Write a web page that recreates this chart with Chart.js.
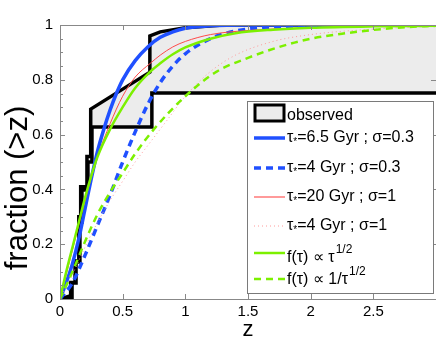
<!DOCTYPE html>
<html>
<head>
<meta charset="utf-8">
<script src="https://cdn.jsdelivr.net/npm/chart.js@4/dist/chart.umd.min.js"></script>
<style>
  html, body { margin: 0; padding: 0; background: #fff; }
</style>
</head>
<body>
<canvas id="cdfChart" width="436" height="339"></canvas>
<script>
// observed region: upper and lower step boundaries (z, fraction)
const obsUpperZ = [0, 0.085, 0.085, 0.12, 0.12, 0.15, 0.15, 0.165, 0.165, 0.215, 0.215, 0.245, 0.245, 0.717, 0.717, 0.8, 1.0, 1.3, 3.1];
const obsUpperF = [0, 0.012, 0.06, 0.06, 0.14, 0.14, 0.30, 0.30, 0.41, 0.41, 0.52, 0.52, 0.693, 0.828, 0.96, 0.975, 0.99, 1.0, 1.0];
const obsLowerZ = [0, 0.096, 0.096, 0.128, 0.128, 0.159, 0.159, 0.175, 0.175, 0.223, 0.223, 0.255, 0.255, 0.733, 0.733, 3.1];
const obsLowerF = [0, 0, 0.058, 0.058, 0.135, 0.135, 0.281, 0.281, 0.398, 0.398, 0.50, 0.50, 0.628, 0.628, 0.752, 0.752];

// model curves
const blueSolidZ = [0, 0.05, 0.1, 0.15, 0.2, 0.25, 0.3, 0.35, 0.4, 0.45, 0.5, 0.6, 0.7, 0.8, 0.9, 1.0, 1.2, 1.5, 2, 3];
const blueSolidF = [0, 0.06, 0.13, 0.22, 0.33, 0.44, 0.54, 0.62, 0.69, 0.75, 0.80, 0.87, 0.92, 0.955, 0.975, 0.988, 0.997, 1, 1, 1];
const blueDashZ = [0, 0.1, 0.2, 0.3, 0.4, 0.5, 0.6, 0.7, 0.8, 0.9, 1.0, 1.2, 1.4, 1.7, 2.0, 3];
const blueDashF = [0, 0.06, 0.16, 0.27, 0.38, 0.50, 0.61, 0.71, 0.79, 0.85, 0.895, 0.95, 0.978, 0.993, 0.998, 1];
const redSolidZ = [0, 0.1, 0.2, 0.3, 0.4, 0.5, 0.6, 0.72, 0.8, 0.9, 1.0, 1.2, 1.5, 2, 2.5, 3];
const redSolidF = [0, 0.18, 0.36, 0.52, 0.64, 0.74, 0.81, 0.86, 0.89, 0.92, 0.94, 0.965, 0.98, 0.99, 0.995, 0.998];
const redDotZ = [0, 0.1, 0.2, 0.3, 0.4, 0.5, 0.6, 0.7, 0.85, 1.0, 1.2, 1.4, 1.7, 2.0, 2.5, 3];
const redDotF = [0, 0.09, 0.19, 0.28, 0.36, 0.43, 0.50, 0.56, 0.65, 0.74, 0.83, 0.89, 0.94, 0.965, 0.985, 0.995];
const greenSolidZ = [0, 0.05, 0.1, 0.15, 0.2, 0.25, 0.3, 0.4, 0.5, 0.6, 0.72, 0.8, 0.9, 1.0, 1.2, 1.4, 1.7, 2.0, 2.5, 3];
const greenSolidF = [0, 0.10, 0.19, 0.28, 0.37, 0.45, 0.52, 0.62, 0.70, 0.77, 0.83, 0.86, 0.893, 0.918, 0.95, 0.97, 0.983, 0.99, 0.995, 0.997];
const greenDashZ = [0, 0.1, 0.2, 0.3, 0.4, 0.5, 0.6, 0.75, 1.0, 1.25, 1.5, 1.75, 2.0, 2.25, 2.5, 2.75, 3];
const greenDashF = [0, 0.10, 0.21, 0.31, 0.39, 0.46, 0.53, 0.62, 0.74, 0.83, 0.88, 0.92, 0.95, 0.968, 0.982, 0.992, 0.997];

const xTicks = [0, 0.5, 1, 1.5, 2, 2.5];
const yTicks = [0, 0.2, 0.4, 0.6, 0.8, 1];
const yTitle = 'fraction (>z)';

const FONT = '"Liberation Sans", Arial, Helvetica, sans-serif';
const BLUE = '#2050ff';
const RED = '#ff4a4a';
const PINK = '#ff9a9a';
const GREEN = '#7cf000';

function pts(zs, fs) {
  return zs.map((z, i) => ({ x: z, y: fs[i] }));
}

const obsPolygon = pts(obsUpperZ, obsUpperF).concat(pts(obsLowerZ, obsLowerF).reverse());

function curve(label, zs, fs, color, width, dash, order) {
  return {
    label: label,
    data: pts(zs, fs),
    showLine: true,
    borderColor: color,
    borderWidth: width,
    borderDash: dash,
    pointRadius: 0,
    cubicInterpolationMode: 'monotone',
    fill: false,
    clip: 0,
    order: order
  };
}

// legend rows: label parts, [text, 'sub'|'sup'|undefined]
const legendRows = [
  { parts: [['observed']], box: true, y: 113, base: 120 },
  { parts: [['τ'], ['*', 'sub'], ['=6.5 Gyr ; σ=0.3']], color: BLUE, width: 3.5, dash: [], y: 138, base: 142 },
  { parts: [['τ'], ['*', 'sub'], ['=4 Gyr ; σ=0.3']], color: BLUE, width: 3.5, dash: [7, 5], y: 168, base: 172 },
  { parts: [['τ'], ['*', 'sub'], ['=20 Gyr ; σ=1']], color: PINK, width: 2, dash: [], y: 197, base: 201 },
  { parts: [['τ'], ['*', 'sub'], ['=4 Gyr ; σ=1']], color: PINK, width: 1, dash: [1, 3], y: 226, base: 230 },
  { parts: [['f(τ) ∝ τ'], ['1/2', 'sup']], color: GREEN, width: 2.5, dash: [], y: 253, base: 262 },
  { parts: [['f(τ) ∝ 1/τ'], ['1/2', 'sup']], color: GREEN, width: 2.5, dash: [7, 5], y: 279, base: 284 }
];

const axesAndLegend = {
  id: 'axesAndLegend',
  afterDatasetsDraw(chart) {
    const ctx = chart.ctx;
    const xs = chart.scales.x, ys = chart.scales.y;
    const a = chart.chartArea;
    ctx.save();
    ctx.strokeStyle = '#888';
    ctx.lineWidth = 1;
    ctx.beginPath();
    ctx.moveTo(a.left + 0.5, a.top);
    ctx.lineTo(a.left + 0.5, a.bottom);
    ctx.moveTo(a.left, a.bottom + 0.5);
    ctx.lineTo(a.right, a.bottom + 0.5);
    ctx.moveTo(a.left, a.top + 0.5);
    ctx.lineTo(a.right, a.top + 0.5);
    xTicks.forEach(v => {
      const px = Math.round(xs.getPixelForValue(v)) + 0.5;
      ctx.moveTo(px, a.bottom); ctx.lineTo(px, a.bottom - 5);
      ctx.moveTo(px, a.top); ctx.lineTo(px, a.top + 5);
    });
    for (let k = 0; k <= 20; k++) {
      const v = k / 20;
      const py = Math.round(ys.getPixelForValue(v)) + 0.5;
      const len = (k % 4 === 0) ? 5 : 3;
      ctx.moveTo(a.left, py); ctx.lineTo(a.left + len, py);
      if (k % 4 === 0) { ctx.moveTo(a.right, py); ctx.lineTo(a.right - 5, py); }
    }
    ctx.stroke();

    // y axis title
    ctx.save();
    ctx.translate(18, 188);
    ctx.rotate(-Math.PI / 2);
    ctx.fillStyle = '#000';
    ctx.font = '31px ' + FONT;
    ctx.textAlign = 'center';
    ctx.textBaseline = 'middle';
    ctx.fillText(yTitle, 0, 0);
    ctx.restore();

    // legend box
    const L = 247, T = 101, R = 433, B = 293;
    ctx.fillStyle = '#fff';
    ctx.fillRect(L, T, R - L, B - T);
    ctx.strokeStyle = '#7a7a7a';
    ctx.strokeRect(L + 0.5, T + 0.5, R - L, B - T);

    legendRows.forEach(row => {
      if (row.box) {
        ctx.fillStyle = '#ececec';
        ctx.fillRect(255, 105, 29, 16);
        ctx.strokeStyle = '#000';
        ctx.lineWidth = 3;
        ctx.strokeRect(255, 105, 29, 16);
      } else {
        ctx.strokeStyle = row.color;
        ctx.lineWidth = row.width;
        ctx.setLineDash(row.dash);
        ctx.beginPath();
        ctx.moveTo(254, row.y);
        ctx.lineTo(285, row.y);
        ctx.stroke();
        ctx.setLineDash([]);
      }
      let x = 287;
      ctx.fillStyle = '#000';
      ctx.textBaseline = 'alphabetic';
      ctx.textAlign = 'left';
      row.parts.forEach(([txt, mode]) => {
        if (mode === 'sub') {
          ctx.font = '10px ' + FONT;
          ctx.fillText(txt, x, row.base + 3);
        } else if (mode === 'sup') {
          ctx.font = '12px ' + FONT;
          ctx.fillText(txt, x + 1, row.base - 9);
        } else {
          ctx.font = '16px ' + FONT;
          ctx.fillText(txt, x, row.base);
        }
        x += ctx.measureText(txt).width;
      });
    });
    ctx.restore();
  }
};

const ctx = document.getElementById('cdfChart').getContext('2d');
new Chart(ctx, {
  type: 'scatter',
  data: {
    datasets: [
      {
        label: 'observed',
        data: obsPolygon,
        showLine: true,
        fill: 'shape',
        backgroundColor: '#ececec',
        borderColor: '#000',
        borderWidth: 3.5,
        borderJoinStyle: 'miter',
        pointRadius: 0,
        tension: 0,
        clip: 0,
        order: 10
      },
      curve('τ*=6.5 Gyr ; σ=0.3', blueSolidZ, blueSolidF, BLUE, 3.5, [], 6),
      curve('τ*=4 Gyr ; σ=0.3', blueDashZ, blueDashF, BLUE, 3.5, [7, 5], 5),
      curve('τ*=20 Gyr ; σ=1', redSolidZ, redSolidF, RED, 1, [], 4),
      curve('τ*=4 Gyr ; σ=1', redDotZ, redDotF, PINK, 1, [1, 3], 3),
      curve('f(τ) ∝ τ^1/2', greenSolidZ, greenSolidF, GREEN, 2.5, [], 2),
      curve('f(τ) ∝ 1/τ^1/2', greenDashZ, greenDashF, GREEN, 2.5, [7, 5], 1)
    ]
  },
  options: {
    responsive: false,
    animation: false,
    events: [],
    layout: { padding: { top: 25, left: 0, right: 0, bottom: 0 } },
    plugins: { legend: { display: false }, tooltip: { enabled: false } },
    scales: {
      x: {
        type: 'linear', min: 0, max: 3,
        afterFit: s => { s.height = 40; },
        afterBuildTicks: s => { s.ticks = xTicks.map(v => ({ value: v })); },
        grid: { display: false, drawTicks: false },
        border: { display: false },
        ticks: { color: '#000', padding: 4, maxRotation: 0, autoSkip: false, font: { family: FONT, size: 15 }, callback: v => String(v) },
        title: { display: true, text: 'z', color: '#000', font: { family: FONT, size: 22, lineHeight: 0.8 }, padding: { top: 0, bottom: 0 } }
      },
      y: {
        type: 'linear', min: 0, max: 1,
        afterFit: s => { s.width = 60; },
        afterBuildTicks: s => { s.ticks = yTicks.map(v => ({ value: v })); },
        grid: { display: false, drawTicks: false },
        border: { display: false },
        ticks: { color: '#000', padding: 7, font: { family: FONT, size: 15 }, callback: v => String(v) }
      }
    }
  },
  plugins: [axesAndLegend]
});
</script>
</body>
</html>
